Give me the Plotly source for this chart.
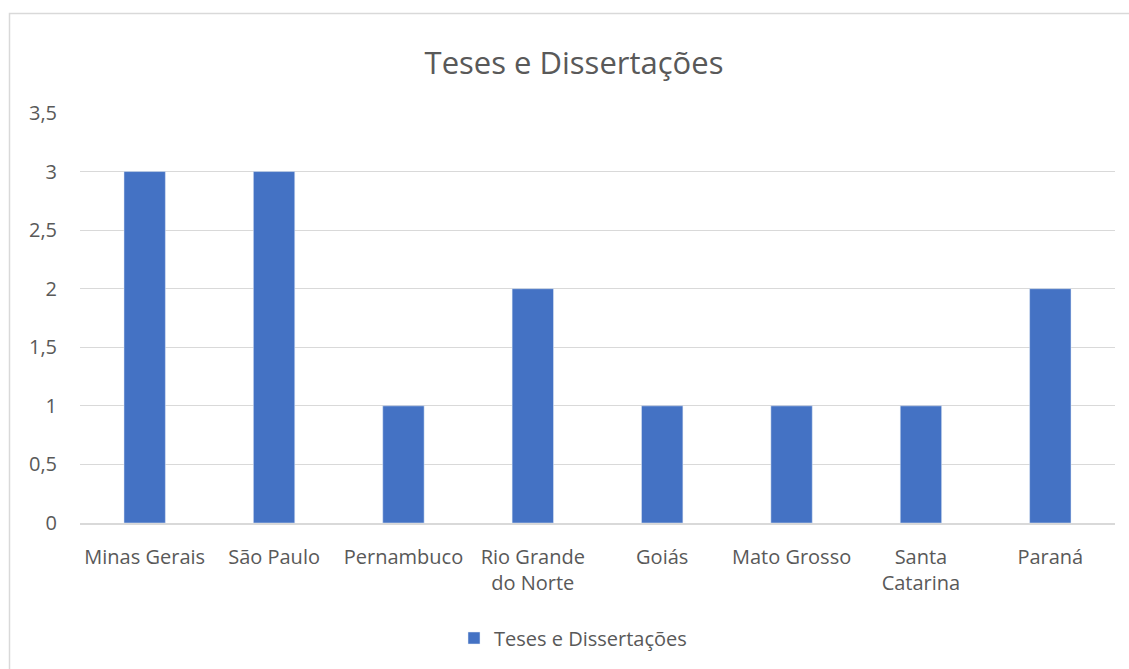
import plotly.graph_objects as go

categories = ["Minas Gerais", "São Paulo", "Pernambuco", "Rio Grande<br>do Norte",
              "Goiás", "Mato Grosso", "Santa<br>Catarina", "Paraná"]
values = [3, 3, 1, 2, 1, 1, 1, 2]
series_name = "Teses e Dissertações"
y_ticks = [0, 0.5, 1, 1.5, 2, 2.5, 3, 3.5]
y_tick_labels = ["0", "0,5", "1", "1,5", "2", "2,5", "3", "3,5"]

W, H = 1129, 669
L, R, T, B = 80, 14, 113, 146
pw, ph = W - L - R, H - T - B

def px_x(x):
    return (x - L) / pw

def px_y(y):
    return 1 - (y - T) / ph

font = "Open Sans"
txt = "#595959"

fig = go.Figure(go.Bar(x=categories, y=values, name=series_name,
                       marker_color="#4472C4", showlegend=True))

fig.update_layout(
    width=W, height=H,
    margin=dict(l=L, r=R, t=T, b=B),
    paper_bgcolor="white", plot_bgcolor="white",
    font=dict(family=font, color=txt, size=20),
    title=dict(text="Teses e Dissertações", x=574 / W, xanchor="center",
               y=1 - 63 / H, yanchor="middle",
               font=dict(size=31, color=txt, family=font)),
    bargap=0.68,
    showlegend=True,
    legend=dict(orientation="h", x=px_x(454), xanchor="left",
                y=px_y(638), yanchor="middle", font=dict(size=20, color=txt)),
    xaxis=dict(showgrid=False, showline=True, linecolor="#d9d9d9", linewidth=1.5,
               ticks="", ticklabelstandoff=15, tickfont=dict(size=20, color=txt)),
    yaxis=dict(range=[0, 3.5], tickvals=y_ticks, ticktext=y_tick_labels,
               showgrid=True, gridcolor="#d9d9d9", gridwidth=1.2,
               zeroline=False, showline=False, ticks="",
               ticklabelstandoff=22, tickfont=dict(size=20, color=txt)),
    shapes=[dict(type="rect", xref="paper", yref="paper",
                 x0=px_x(9.5), x1=px_x(1140), y0=px_y(13.5), y1=px_y(700),
                 line=dict(color="#d9d9d9", width=1.5), layer="below")],
)

fig.write_html("out.html")
